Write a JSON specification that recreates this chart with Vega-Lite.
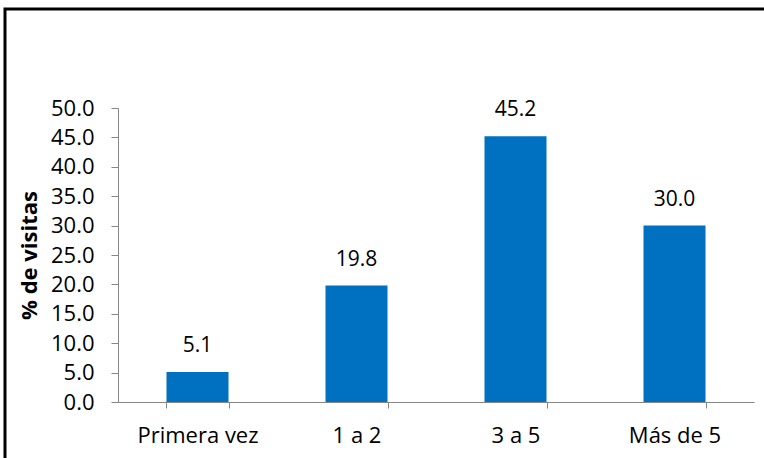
{
  "$schema": "https://vega.github.io/schema/vega-lite/v6.json",
  "autosize": "none",
  "width": 764,
  "height": 460,
  "padding": {"left": 5, "top": 9, "right": 0, "bottom": 0},
  "background": "white",
  "config": {
    "view": {"stroke": "black", "strokeWidth": 3},
    "font": "Open Sans"
  },
  "data": {
    "values": [
      {"cat": "Primera vez", "pct": 5.1},
      {"cat": "1 a 2", "pct": 19.8},
      {"cat": "3 a 5", "pct": 45.2},
      {"cat": "Más de 5", "pct": 30.0}
    ]
  },
  "encoding": {
    "x": {
      "field": "cat",
      "type": "nominal",
      "sort": null,
      "scale": {"range": [113, 749], "paddingInner": 0.61, "paddingOuter": 0.305},
      "axis": {
        "title": null,
        "labelAngle": 0,
        "labelFontSize": 22,
        "labelColor": "black",
        "labelPadding": 17,
        "tickBand": "extent",
        "tickSize": 6,
        "tickColor": "#868686",
        "domainColor": "#868686",
        "offset": -67,
        "grid": false
      }
    },
    "y": {
      "field": "pct",
      "type": "quantitative",
      "scale": {"domain": [0, 50], "range": [393, 99], "nice": false},
      "axis": {
        "title": "% de visitas",
        "titleFontSize": 22,
        "titleFontWeight": "bold",
        "titleColor": "black",
        "titlePadding": 9,
        "values": [0, 5, 10, 15, 20, 25, 30, 35, 40, 45, 50],
        "format": ".1f",
        "labelFontSize": 22,
        "labelColor": "black",
        "labelPadding": 17,
        "tickSize": 7,
        "tickColor": "#868686",
        "domainColor": "#868686",
        "offset": -113,
        "grid": false
      }
    }
  },
  "layer": [
    {"mark": {"type": "bar", "color": "#0070C0"}},
    {
      "mark": {"type": "text", "fontSize": 21, "baseline": "alphabetic", "dy": -20, "color": "black"},
      "encoding": {"text": {"field": "pct", "type": "quantitative", "format": ".1f"}}
    }
  ]
}
